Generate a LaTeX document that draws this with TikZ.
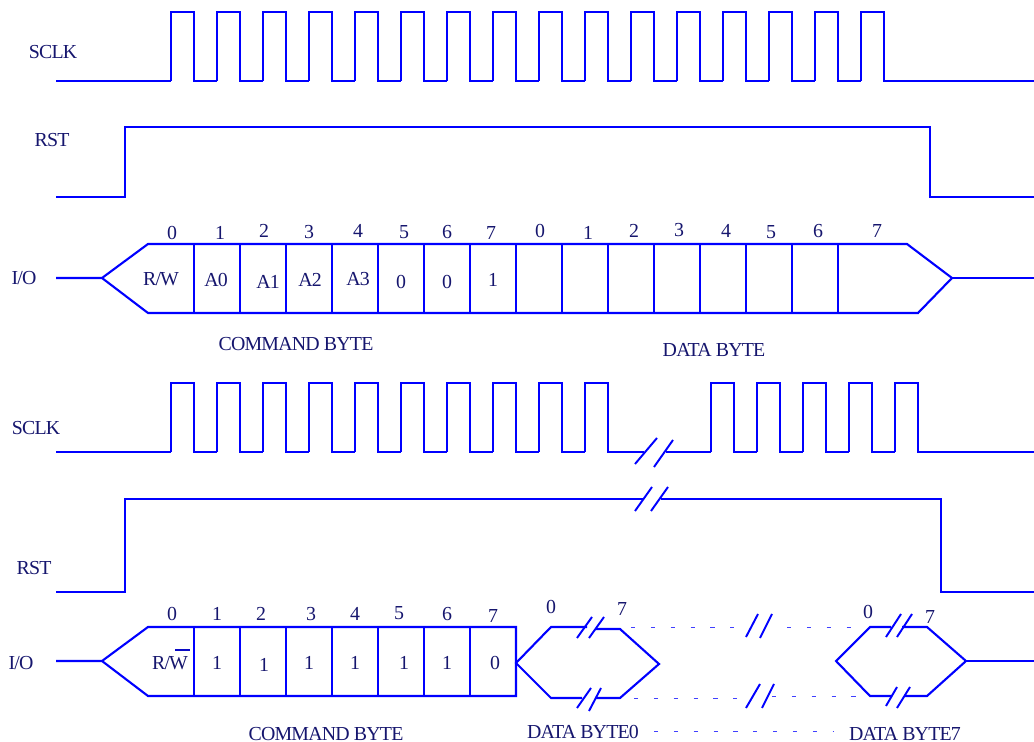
\documentclass[tikz,border=0pt]{standalone}
\usepackage{fontspec}
\setmainfont[LetterSpace=-4]{Liberation Serif}
\usepackage{xcolor}
\usepackage{tikz}
\definecolor{wire}{RGB}{0,0,255}
\definecolor{ink}{RGB}{22,22,110}

\begin{document}
\begin{tikzpicture}[
  x=0.02cm, y=-0.02cm,
  font=\fontsize{11.3}{13}\selectfont,
  sig/.style={draw=wire, line width=1.2pt, line join=miter},
  brk/.style={draw=wire, line width=1.1pt},
  dots/.style={draw=wire!75, line width=0.55pt, dash pattern=on 2.4pt off 8.9pt},
  lbl/.style={text=ink, inner sep=0pt, anchor=center, yshift=-0.3pt}
]
\useasboundingbox (0,0) rectangle (1034,742);

% first frame
\node[lbl] (sclkA) at (53,52) {SCLK};
\node[lbl] (rstA) at (52,140) {RST};
\node[lbl] (ioA) at (24,278) {I/O};
\draw[sig] (56,81) -- (171,81);
\foreach \x in {171,217,...,861}
  \draw[sig] (\x,81) -- ++(0,-69) -- ++(23,0) -- ++(0,69) -- ++(23,0);
\draw[sig] (884,81) -- (1034,81);
\draw[sig] (56,197) -- (125,197) -- (125,127) -- (930,127) -- (930,197) -- (1034,197);
\draw[sig] (56,278) -- (102,278) -- (148,244) -- (907,244) -- (952,278) -- (918,313) -- (148,313) -- (102,278);
\draw[sig] (952,278) -- (1034,278);
\foreach \x in {194,240,...,838}
  \draw[sig] (\x,244) -- (\x,313);
\foreach \x/\y/\t [count=\i] in {172/232/0,220/232/1,264/230/2,309/232/3,358/230/4,404/232/5,447/232/6,491/232/7,
    540/230/0,588/232/1,634/230/2,679/230/3,726/230/4,771/232/5,818/231/6,877/230/7}
  \node[lbl] (bitA\i) at (\x,\y) {\t};
\foreach \x/\y/\t [count=\i] in {161/279/{R/W},216/279/A0,268/281/A1,310/279/A2,358/279/A3,401/281/0,447/281/0,493/279/1}
  \node[lbl] (cellA\i) at (\x,\y) {\t};
\node[lbl] (cmdA) at (296,344) {COMMAND BYTE};
\node[lbl] (dataA) at (714,349) {DATA BYTE};

% second frame
\node[lbl] (sclkB) at (36,427) {SCLK};
\node[lbl] (rstB) at (34,567) {RST};
\node[lbl] (ioB) at (21,662) {I/O};
\draw[sig] (56,452) -- (171,452);
\foreach \x in {171,217,...,539}
  \draw[sig] (\x,452) -- ++(0,-69) -- ++(23,0) -- ++(0,69) -- ++(23,0);
\draw[sig] (585,452) -- ++(0,-69) -- ++(23,0) -- ++(0,69) -- (644,452);
\draw[brk] (635,464) -- (657,438);
\draw[brk] (654,467) -- (673,440);
\draw[sig] (666,452) -- (711,452);
\foreach \x in {711,757,803,849,895}
  \draw[sig] (\x,452) -- ++(0,-69) -- ++(23,0) -- ++(0,69) -- ++(23,0);
\draw[sig] (918,452) -- (1034,452);
\draw[sig] (56,592) -- (125,592) -- (125,499) -- (643,499);
\draw[brk] (635,511) -- (652,487);
\draw[brk] (651,511) -- (668,487);
\draw[sig] (661,499) -- (941,499) -- (941,592) -- (1034,592);
\draw[sig] (56,661) -- (102,661) -- (148,627) -- (516,627) -- (516,696) -- (148,696) -- (102,661);
\foreach \x in {194,240,...,470}
  \draw[sig] (\x,627) -- (\x,696);
\foreach \x/\y/\t [count=\i] in {172/613/0,217/613/1,261/613/2,311/613/3,355/613/4,399/613/5,447/613/6,493/615/7}
  \node[lbl] (bitB\i) at (\x,\y) {\t};
\node[lbl] (cellB0) at (170,663) {R/W};
\draw[draw=ink!40!wire, line width=1pt] (175,650) -- (190,650);
\foreach \x/\y/\t [count=\i] in {217/662/1,264/664/1,309/662/1,355/662/1,404/662/1,447/662/1,495/662/0}
  \node[lbl] (cellB\i) at (\x,\y) {\t};

% byte 0 hexagon
\draw[sig] (587,627) -- (551,627) -- (516,663) -- (551,698) -- (582,698);
\draw[sig] (595,629) -- (620,629) -- (659,664) -- (620,698) -- (596,698);
\draw[brk] (577,638) -- (592,617);
\draw[brk] (589,638) -- (604,617);
\draw[brk] (577,708) -- (591,688);
\draw[brk] (589,711) -- (601,688);

% byte 7 hexagon
\draw[sig] (891,627) -- (870,627) -- (836,661) -- (870,696) -- (892,696);
\draw[sig] (902,627) -- (927,627) -- (966,661) -- (927,696) -- (904,696);
\draw[sig] (966,661) -- (1034,661);
\draw[brk] (886,637) -- (901,614);
\draw[brk] (897,637) -- (912,614);
\draw[brk] (886,706) -- (897,687);
\draw[brk] (897,708) -- (910,687);

% dotted gaps
\draw[dots] (631,627) -- (741,627);
\draw[dots] (787,627) -- (861,627);
\draw[brk] (746,637) -- (758,614);
\draw[brk] (760,638) -- (772,614);
\draw[dots] (634,698) -- (737,698);
\draw[dots] (772,696) -- (867,696);
\draw[brk] (746,708) -- (760,684);
\draw[brk] (762,708) -- (774,684);
\draw[dots] (654,731) -- (834,731);

\node[lbl] (bitC0) at (551,606) {0};
\node[lbl] (bitC7) at (622,608) {7};
\node[lbl] (bitD0) at (868,611) {0};
\node[lbl] (bitD7) at (930,616) {7};
\node[lbl] (cmdB) at (326,733) {COMMAND BYTE};
\node[lbl] (dataB0) at (583,731) {DATA BYTE0};
\node[lbl] (dataB7) at (905,733) {DATA BYTE7};
\end{tikzpicture}
\end{document}
